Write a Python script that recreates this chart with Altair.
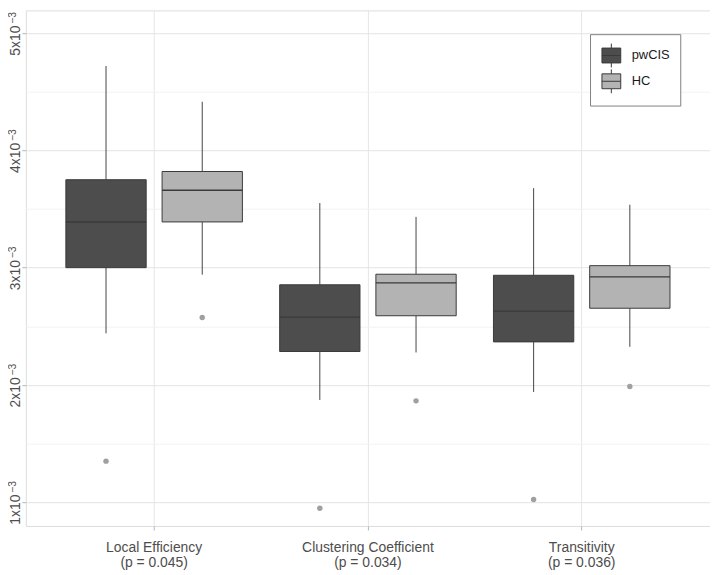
import altair as alt
import pandas as pd

metrics = ["Local Efficiency", "Clustering Coefficient", "Transitivity"]
pvalues = ["0.045", "0.034", "0.036"]
groups = ["pwCIS", "HC"]

# values in units of 1e-3, order: pwCIS LE, HC LE, pwCIS CC, HC CC, pwCIS Tr, HC Tr
whisker_hi = [4.72, 4.415, 3.551, 3.433, 3.678, 3.537]
q3 = [3.75, 3.82, 2.854, 2.944, 2.935, 3.017]
median = [3.39, 3.66, 2.578, 2.87, 2.629, 2.921]
q1 = [3.00, 3.39, 2.285, 2.59, 2.367, 2.654]
whisker_lo = [2.44, 2.94, 1.872, 2.277, 1.94, 2.325]
outlier = [1.35, 2.575, 0.949, 1.864, 1.023, 1.987]

labels = [f"{m}|(p = {p})" for m, p in zip(metrics, pvalues)]
rows = []
i = 0
for lab in labels:
    for g in groups:
        rows.append(dict(metric=lab, group=g,
                         hi=whisker_hi[i] * 1e-3, q3=q3[i] * 1e-3, med=median[i] * 1e-3,
                         q1=q1[i] * 1e-3, lo=whisker_lo[i] * 1e-3, out=outlier[i] * 1e-3))
        i += 1
df = pd.DataFrame(rows)

font = "Liberation Sans"
major_test = "abs(datum.value*1000 - round(datum.value*1000)) < 1e-6"

x_enc = alt.X("metric:N", sort=labels, title=None,
              scale=alt.Scale(paddingOuter=0.1, paddingInner=0),
              axis=alt.Axis(labelExpr="split(datum.label, '|')", labelAngle=0,
                            labelFont=font, labelFontSize=14, labelColor="#4d4d4d",
                            labelPadding=11, labelLineHeight=15,
                            grid=True, gridColor="#e6e6e6", bandPosition=0.5,
                            domain=False, ticks=True, tickColor="#b3b3b3", tickSize=4))
xo_enc = alt.XOffset("group:N", sort=groups,
                     scale=alt.Scale(paddingOuter=0.111, paddingInner=0))

yvals = [v / 2 * 1e-3 for v in range(2, 11)]
y_scale = alt.Scale(domain=[0.797e-3, 5.194e-3], nice=False, zero=False)
# main part of the tick label: "5x10"
y_axis_main = alt.Axis(values=yvals, title=None, orient="left",
                       labelExpr=f"({major_test}) ? format(datum.value*1000, 'd') + 'x10' : ''",
                       labelAngle=270, labelAlign="center", labelBaseline="alphabetic",
                       labelOffset=7, labelFont=font, labelFontSize=14, labelColor="#4d4d4d",
                       labelPadding=2, domain=False, tickSize=4,
                       tickColor=alt.condition(major_test, alt.value("#b3b3b3"), alt.value("transparent")),
                       gridColor=alt.condition(major_test, alt.value("#e3e3e3"), alt.value("#f2f2f2")))
# exponent part of the tick label: "−3"
y_axis_exp = alt.Axis(values=yvals, title=None, orient="left",
                      labelExpr=f"({major_test}) ? '−3' : ''",
                      labelAngle=270, labelAlign="center", labelBaseline="alphabetic",
                      labelOffset=-16, labelFont=font, labelFontSize=10.5, labelColor="#4d4d4d",
                      labelPadding=10, domain=False, ticks=False, tickSize=0, grid=False)

base = alt.Chart(df)

whisk_hi = base.mark_rule(color="#444444", strokeWidth=1).encode(
    x=x_enc, xOffset=xo_enc,
    y=alt.Y("q3:Q", scale=y_scale, axis=y_axis_main), y2="hi:Q")
whisk_lo = base.mark_rule(color="#444444", strokeWidth=1).encode(
    x=x_enc, xOffset=xo_enc, y=alt.Y("lo:Q", scale=y_scale, axis=None), y2="q1:Q")

key_path = ("M-0.862,-0.682H0.862V0.682H-0.862Z M-0.862,0H0.862 "
            "M0,-0.682V-1.091 M0,0.682V1.091")

boxes = base.mark_bar(width=81, stroke="#3a3a3a", strokeWidth=1).encode(
    x=x_enc, xOffset=xo_enc,
    y=alt.Y("q3:Q", scale=y_scale, axis=None), y2="q1:Q",
    fill=alt.Fill("group:N", sort=groups,
                  scale=alt.Scale(domain=groups, range=["#4d4d4d", "#b3b3b3"]),
                  legend=alt.Legend(title=None, orient="none", legendX=569, legendY=24,
                                    symbolType=key_path,
                                    symbolSize=484, symbolStrokeColor="#3a3a3a",
                                    symbolStrokeWidth=1, symbolOpacity=1,
                                    labelFont=font, labelFontSize=13, labelColor="#1a1a1a",
                                    labelOffset=9, rowPadding=-5, padding=10,
                                    strokeColor="#808080", fillColor="white")))

med = base.mark_tick(size=81, thickness=1.4, color="#3a3a3a", opacity=1).encode(
    x=x_enc, xOffset=xo_enc, y=alt.Y("med:Q", scale=y_scale, axis=None))

outs = base.mark_circle(size=30, color="#a0a0a0", opacity=1).encode(
    x=x_enc, xOffset=xo_enc, y=alt.Y("out:Q", scale=y_scale, axis=y_axis_exp))

chart = alt.layer(whisk_hi, whisk_lo, boxes, med, outs).resolve_axis(y="independent").properties(
    width=690, height=520,
    padding={"left": 18, "top": 0, "right": 0, "bottom": 45},
    autosize=alt.AutoSizeParams(type="none"),
).configure_view(stroke="#b3b3b3", strokeWidth=1).configure(background="white")

chart.save("out.html", embed_options={"renderer": "svg", "actions": False})
